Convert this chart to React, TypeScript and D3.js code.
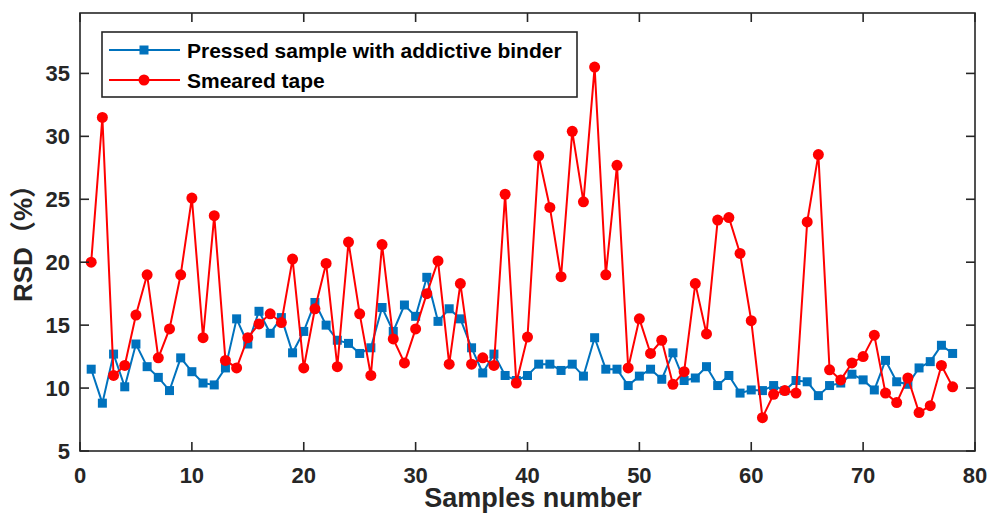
import React from "react";
import * as d3 from "d3";

// RSD (%) per sample
const pressed = [
  11.5, 8.8, 12.7, 10.1, 13.5, 11.7, 10.85, 9.8, 12.4, 11.3,
  10.4, 10.25, 11.6, 15.5, 13.5, 16.1, 14.35, 15.6, 12.8, 14.5,
  16.8, 15.0, 13.8, 13.55, 12.75, 13.2, 16.4, 14.5, 16.6, 15.7,
  18.8, 15.3, 16.3, 15.5, 13.2, 11.2, 12.7, 11.0, 10.6, 11.0,
  11.9, 11.9, 11.4, 11.9, 10.95, 14.0, 11.5, 11.5, 10.2, 10.95,
  11.5, 10.7, 12.8, 10.6, 10.8, 11.7, 10.2, 11.0, 9.6, 9.85,
  9.8, 10.2, 9.8, 10.6, 10.5, 9.4, 10.2, 10.4, 11.1, 10.65,
  9.85, 12.2, 10.5, 10.3, 11.6, 12.1, 13.4, 12.75,
];
const smeared = [
  20.0, 31.5, 11.0, 11.8, 15.8, 19.0, 12.4, 14.7, 19.0, 25.1,
  14.0, 23.7, 12.2, 11.6, 14.0, 15.1, 15.9, 15.2, 20.25, 11.6,
  16.3, 19.9, 11.7, 21.6, 15.9, 11.0, 21.4, 13.9, 12.0, 14.7,
  17.5, 20.1, 11.9, 18.3, 11.9, 12.4, 11.8, 25.4, 10.4, 14.05,
  28.45, 24.35, 18.85, 30.4, 24.8, 35.5, 19.0, 27.7, 11.6, 15.5,
  12.75, 13.8, 10.3, 11.3, 18.3, 14.3, 23.35, 23.55, 20.7, 15.35,
  7.65, 9.5, 9.8, 9.6, 23.2, 28.55, 11.45, 10.65, 12.0, 12.5,
  14.2, 9.6, 8.85, 10.8, 8.05, 8.6, 11.8, 10.1,
];
const samples = pressed.map((_, i) => i + 1);
const xTicks = [0, 10, 20, 30, 40, 50, 60, 70, 80];
const yTicks = [5, 10, 15, 20, 25, 30, 35];
const seriesNames = ["Pressed sample with addictive binder", "Smeared tape"];

const W = 990;
const H = 513;
const left = 80, right = 975, top = 13, bottom = 451;
const font = "'Liberation Sans', Arial, 'Noto Sans CJK SC', sans-serif";
const axisColor = "#262626";
const blue = "#0072BD";
const red = "#FF0000";

export default function App() {
  const x = d3.scaleLinear().domain([0, 80]).range([left, right]);
  const y = d3.scaleLinear().domain([5, 39.8]).range([bottom, top]);

  const line = d3
    .line<number>()
    .x((_, i) => x(samples[i]))
    .y((d) => y(d));

  const tickLen = 9;

  return (
    <svg
      width={W}
      height={H}
      style={{ position: "absolute", left: 0, top: 0, background: "#fff" }}
      fontFamily={font}
    >
      <rect x={0} y={0} width={W} height={H} fill="#fff" />

      {/* series */}
      <path d={line(pressed) || ""} fill="none" stroke={blue} strokeWidth={2} />
      {pressed.map((v, i) => (
        <rect
          key={"b" + i}
          x={x(samples[i]) - 4.5}
          y={y(v) - 4.5}
          width={9}
          height={9}
          fill={blue}
        />
      ))}
      <path d={line(smeared) || ""} fill="none" stroke={red} strokeWidth={2} />
      {smeared.map((v, i) => (
        <circle key={"r" + i} cx={x(samples[i])} cy={y(v)} r={5.5} fill={red} />
      ))}

      {/* box + ticks */}
      <rect
        x={left}
        y={top}
        width={right - left}
        height={bottom - top}
        fill="none"
        stroke={axisColor}
        strokeWidth={1.6}
      />
      {xTicks.map((t) => (
        <g key={"xt" + t}>
          <line x1={x(t)} x2={x(t)} y1={bottom} y2={bottom - tickLen} stroke={axisColor} strokeWidth={1.6} />
          <line x1={x(t)} x2={x(t)} y1={top} y2={top + tickLen} stroke={axisColor} strokeWidth={1.6} />
          <text
            x={x(t)}
            y={483}
            textAnchor="middle"
            fontSize={22}
            fontWeight="bold"
            fill={axisColor}
          >
            {t}
          </text>
        </g>
      ))}
      {yTicks.map((t) => (
        <g key={"yt" + t}>
          <line x1={left} x2={left + tickLen} y1={y(t)} y2={y(t)} stroke={axisColor} strokeWidth={1.6} />
          <line x1={right} x2={right - tickLen} y1={y(t)} y2={y(t)} stroke={axisColor} strokeWidth={1.6} />
          <text
            x={70}
            y={y(t)}
            dy="0.36em"
            textAnchor="end"
            fontSize={22}
            fontWeight="bold"
            fill={axisColor}
          >
            {t}
          </text>
        </g>
      ))}

      {/* axis titles */}
      <text
        x={533}
        y={507}
        textAnchor="middle"
        fontSize={27}
        fontWeight="bold"
        fill={axisColor}
      >
        Samples number
      </text>
      <text
        transform="translate(32,237) rotate(-90)"
        textAnchor="middle"
        fontSize={26}
        fontWeight="bold"
        fill={axisColor}
      >
        RSD（%）
      </text>

      {/* legend */}
      <rect x={102} y={32} width={475} height={65} fill="#fff" stroke={axisColor} strokeWidth={1.6} />
      <line x1={109} x2={180} y1={50} y2={50} stroke={blue} strokeWidth={2} />
      <rect x={139.5} y={45.5} width={9} height={9} fill={blue} />
      <line x1={109} x2={180} y1={80} y2={80} stroke={red} strokeWidth={2} />
      <circle cx={144} cy={80} r={5.5} fill={red} />
      <text x={187} y={57.5} fontSize={21} fontWeight="bold" fill="#000">
        {seriesNames[0]}
      </text>
      <text x={187} y={87.5} fontSize={21} fontWeight="bold" fill="#000">
        {seriesNames[1]}
      </text>
    </svg>
  );
}
